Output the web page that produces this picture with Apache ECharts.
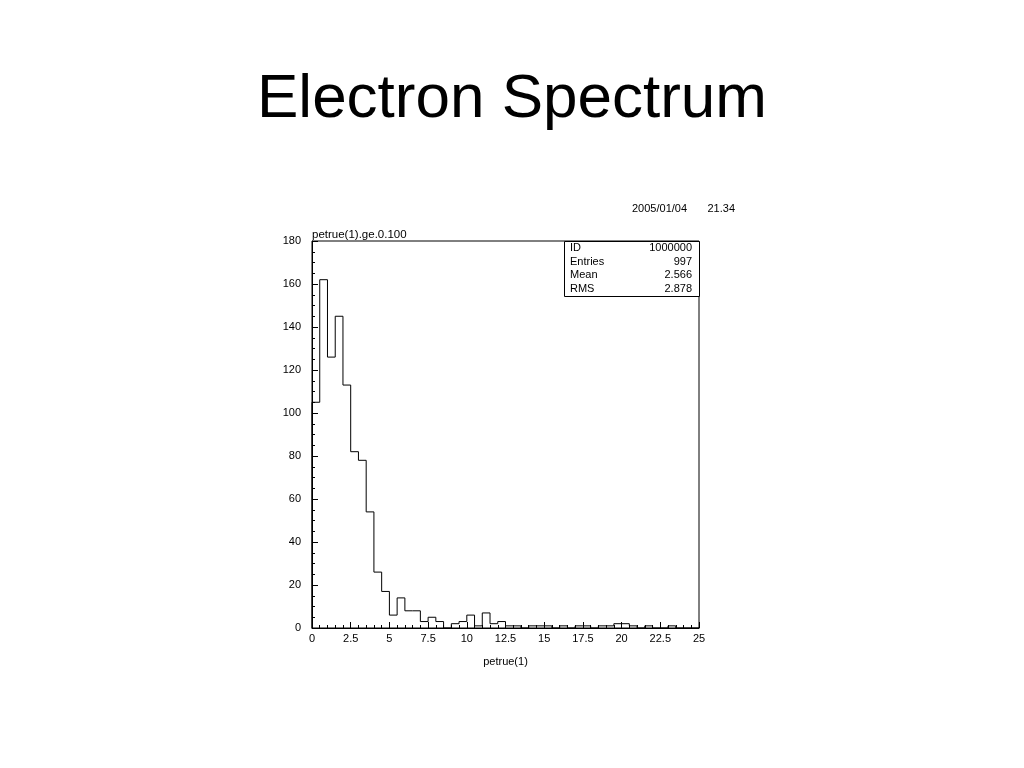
<!DOCTYPE html>
<html>
<head>
<meta charset="utf-8">
<script src="https://cdn.jsdelivr.net/npm/echarts@6/dist/echarts.min.js"></script>
<style>
html,body{margin:0;padding:0;background:#fff;}
#chart{width:1024px;height:768px;}
</style>
</head>
<body>
<div id="chart"></div>
<script>
// Histogram: 50 bins of width 0.5 over petrue(1) in [0, 25]
const binWidth = 0.5;
const binStart = 0;
const counts = [105,162,126,145,113,82,78,54,26,17,
                6,14,8,8,3,5,3,0,2,3,
                6,1,7,2,3,1,1,0,1,1,
                1,0,1,0,1,1,0,1,1,2,
                2,1,0,1,0,0,1,0,0,0];
const xTicks = [0,2.5,5,7.5,10,12.5,15,17.5,20,22.5,25];
const yTicks = [0,20,40,60,80,100,120,140,160,180];
const statsLabels = ['ID','Entries','Mean','RMS'];
const statsValues = ['1000000','997','2.566','2.878'];
const titleText = 'Electron Spectrum';
const histTitle = 'petrue(1).ge.0.100';
const dateText = '2005/01/04';
const timeText = '21.34';
const xName = 'petrue(1)';

// step-outline points built from the bins
const pts = [[binStart, 0]];
counts.forEach((c, i) => pts.push([binStart + i * binWidth, c]));
pts.push([binStart + counts.length * binWidth, counts[counts.length - 1]]);
pts.push([binStart + counts.length * binWidth, 0]);

const font = 'Liberation Sans, Arial, sans-serif';
const chart = echarts.init(document.getElementById('chart'), null, {renderer: 'canvas'});

const GL = 312, GT = 241, GW = 387, GH = 387;
const statsGraphic = [];
const bx = 564, by = 241, bw = 135, bh = 55;
statsGraphic.push({type:'rect', shape:{x:bx+0.5, y:by+0.5, width:bw, height:bh}, style:{fill:'#fff', stroke:'#000', lineWidth:1}, z:100});
statsLabels.forEach((l, i) => {
  statsGraphic.push({type:'text', x:bx+6, y:by+7+i*13.5, style:{text:l, font:'11px ' + font, fill:'#000', textVerticalAlign:'middle'}, z:101});
  statsGraphic.push({type:'text', x:bx+bw-7, y:by+7+i*13.5, style:{text:statsValues[i], font:'11px ' + font, fill:'#000', textAlign:'right', textVerticalAlign:'middle'}, z:101});
});

const option = {
  animation: false,
  backgroundColor: '#fff',
  grid: {left: GL, top: GT, width: GW, height: GH, show: true, borderColor: '#000', borderWidth: 1, backgroundColor: 'transparent'},
  xAxis: {
    type: 'value', min: xTicks[0], max: xTicks[xTicks.length-1], interval: 2.5,
    name: xName, nameLocation: 'middle', nameGap: 28,
    nameTextStyle: {fontFamily: font, fontSize: 11, color: '#000'},
    axisLine: {show: true, lineStyle: {color: '#000', width: 1}},
    axisTick: {show: true, inside: true, length: 6, lineStyle: {color: '#000'}},
    minorTick: {show: true, splitNumber: 5, length: 3, lineStyle: {color: '#000'}},
    axisLabel: {fontFamily: font, fontSize: 11, color: '#000', margin: 5,
      formatter: v => String(v)},
    splitLine: {show: false}
  },
  yAxis: {
    type: 'value', min: yTicks[0], max: yTicks[yTicks.length-1], interval: 20,
    axisLine: {show: true, lineStyle: {color: '#000', width: 1}},
    axisTick: {show: true, inside: true, length: 6, lineStyle: {color: '#000'}},
    minorTick: {show: true, splitNumber: 4, length: 3, lineStyle: {color: '#000'}},
    axisLabel: {fontFamily: font, fontSize: 11, color: '#000', margin: 11},
    splitLine: {show: false}
  },
  series: [{
    type: 'line', step: 'end', data: pts, symbol: 'none',
    lineStyle: {color: '#000', width: 1}, z: 5
  }],
  graphic: [
    {type:'text', x:512, y:100, style:{text:titleText, font:'62px ' + font, fill:'#000', textAlign:'center', textVerticalAlign:'middle'}},
    {type:'text', x:GL, y:GT-6, style:{text:histTitle, font:'11.5px ' + font, fill:'#000', textAlign:'left', textVerticalAlign:'middle'}},
    {type:'text', x:632, y:209, style:{text:dateText, font:'11px ' + font, fill:'#000', textAlign:'left', textVerticalAlign:'middle'}},
    {type:'text', x:735, y:209, style:{text:timeText, font:'11px ' + font, fill:'#000', textAlign:'right', textVerticalAlign:'middle'}}
  ].concat(statsGraphic)
};
chart.setOption(option);
</script>
</body>
</html>
